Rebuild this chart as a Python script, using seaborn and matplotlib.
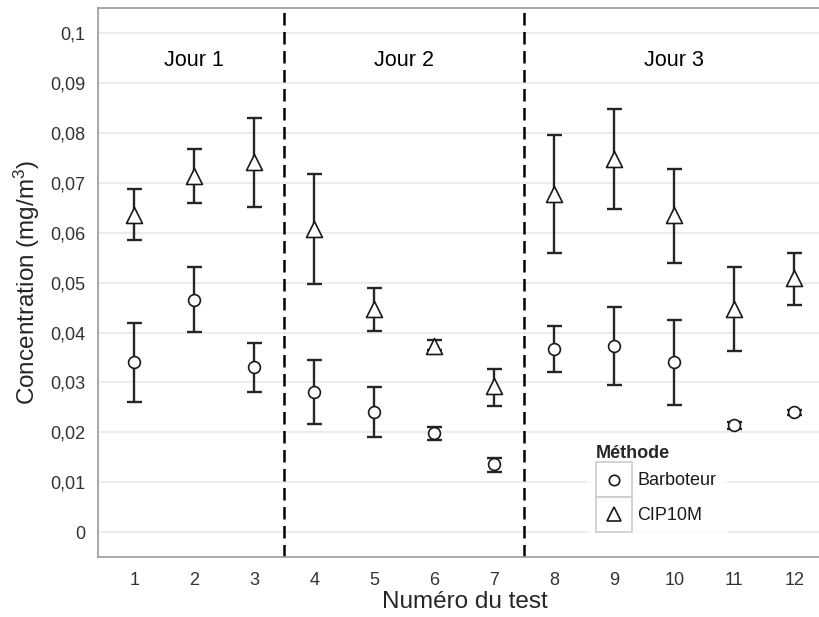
import matplotlib
matplotlib.use('Agg')
import matplotlib.pyplot as plt
import seaborn as sns
import pandas as pd
from matplotlib.legend_handler import HandlerBase
from matplotlib.patches import Rectangle
from matplotlib.lines import Line2D

# data
tests = [1, 2, 3, 4, 5, 6, 7, 8, 9, 10, 11, 12]
barb_mean = [0.0340, 0.0465, 0.0330, 0.0280, 0.0240, 0.0198, 0.0137, 0.0367, 0.0373, 0.0341, 0.0215, 0.0240]
barb_low = [0.0260, 0.0401, 0.0280, 0.0217, 0.0190, 0.0185, 0.0120, 0.0320, 0.0295, 0.0255, 0.0207, 0.0235]
barb_high = [0.0420, 0.0532, 0.0380, 0.0345, 0.0291, 0.0210, 0.0148, 0.0413, 0.0452, 0.0425, 0.0221, 0.0245]
cip_mean = [0.0635, 0.0713, 0.0742, 0.0608, 0.0448, 0.0373, 0.0293, 0.0678, 0.0748, 0.0635, 0.0448, 0.0510]
cip_low = [0.0585, 0.0660, 0.0652, 0.0498, 0.0403, 0.0365, 0.0253, 0.0559, 0.0648, 0.0539, 0.0362, 0.0455]
cip_high = [0.0687, 0.0767, 0.0830, 0.0717, 0.0490, 0.0385, 0.0327, 0.0795, 0.0848, 0.0728, 0.0532, 0.0559]
methods = ['Barboteur', 'CIP10M']

day_labels = ['Jour 1', 'Jour 2', 'Jour 3']
day_centers = [2, 5.5, 10]
day_breaks = [3.5, 7.5]
y_ticks = [0, 0.01, 0.02, 0.03, 0.04, 0.05, 0.06, 0.07, 0.08, 0.09, 0.1]
y_tick_labels = ['0', '0,01', '0,02', '0,03', '0,04', '0,05', '0,06', '0,07', '0,08', '0,09', '0,1']

df = pd.DataFrame({
    'test': tests * 2,
    'conc': barb_mean + cip_mean,
    'low': barb_low + cip_low,
    'high': barb_high + cip_high,
    'Méthode': [methods[0]] * len(tests) + [methods[1]] * len(tests),
})

sns.set_style('white')
plt.rcParams['font.family'] = ['Liberation Sans', 'DejaVu Sans']
plt.rcParams['mathtext.fontset'] = 'custom'
plt.rcParams['mathtext.rm'] = 'Liberation Sans'
plt.rcParams['mathtext.it'] = 'Liberation Sans'

fig = plt.figure(figsize=(8.19, 6.17), dpi=100)
# panel runs past the right edge, as in the original (cropped) image
ax = fig.add_axes([98.4 / 819, 60 / 617, 732 / 819, 548.7 / 617])

ink = '#1a1a1a'
for _, r in df.iterrows():
    ax.errorbar(r['test'], r['conc'],
                yerr=[[r['conc'] - r['low']], [r['high'] - r['conc']]],
                fmt='none', ecolor='#262626', elinewidth=1.7, capsize=5.4,
                capthick=1.7, zorder=3)

markers = {'Barboteur': 'o', 'CIP10M': '^'}
sizes = {'Barboteur': 8.5, 'CIP10M': 11.5}
for m in methods:
    sub = df[df['Méthode'] == m]
    sns.scatterplot(data=sub, x='test', y='conc', marker=markers[m],
                    s=sizes[m] ** 2, color='white', edgecolor=ink,
                    linewidth=1.2, zorder=4, ax=ax, legend=False)

for xb in day_breaks:
    ax.axvline(xb, color='black', lw=1.8, linestyle=(0, (5, 2.6)), zorder=2)

for lab, xc in zip(day_labels, day_centers):
    ax.text(xc, 0.0945, lab, ha='center', va='center', fontsize=15.5, color='black')

ax.set_xlim(0.4, 12.6)
ax.set_ylim(-0.005, 0.105)
ax.set_xticks(tests)
ax.set_xticklabels([str(t) for t in tests])
ax.set_yticks(y_ticks)
ax.set_yticklabels(y_tick_labels)
ax.yaxis.grid(True, color='#ececec', lw=1.4, zorder=0)
ax.xaxis.grid(False)
ax.set_axisbelow(True)

ax.tick_params(axis='both', which='major', length=6.5, width=1.1, color='#333333',
               labelsize=13, labelcolor='#333333', direction='out')
ax.tick_params(axis='x', pad=4)
ax.tick_params(axis='y', pad=3)
for s in ax.spines.values():
    s.set_color('#a0a0a0')
    s.set_linewidth(1.3)

ax.set_xlabel('Numéro du test', fontsize=17.5, labelpad=2)
ax.set_ylabel('Concentration (mg/m$^3$)', fontsize=17.5, labelpad=6)


class KeyBox(HandlerBase):
    def create_artists(self, legend, orig, xdescent, ydescent, width, height,
                       fontsize, trans):
        box = Rectangle((-xdescent, -ydescent), width, height, fc='white',
                        ec='#cccccc', lw=1.2, transform=trans)
        mk = Line2D([width / 2 - xdescent], [height / 2 - ydescent],
                    marker=orig.get_marker(), ms=orig.get_markersize(),
                    mfc='white', mec=ink, mew=1.2, ls='', transform=trans)
        return [box, mk]


handles = [Line2D([], [], marker='o', ms=7.5, ls=''),
           Line2D([], [], marker='^', ms=10, ls='')]
leg = ax.legend(handles, methods, title='Méthode', loc='upper left',
                bbox_to_anchor=((578 - 98.4) / 732, (557 - 427) / 548.7),
                handler_map={Line2D: KeyBox()}, fontsize=13,
                title_fontproperties={'weight': 'bold', 'size': 13},
                handlelength=2.0, handleheight=2.6, labelspacing=0,
                handletextpad=0.3, borderpad=0.5, frameon=True, fancybox=False,
                alignment='left')
leg.get_frame().set_facecolor('white')
leg.get_frame().set_edgecolor('white')
for t in leg.get_texts():
    t.set_color('#1a1a1a')

fig.savefig('out.png', dpi=100)
